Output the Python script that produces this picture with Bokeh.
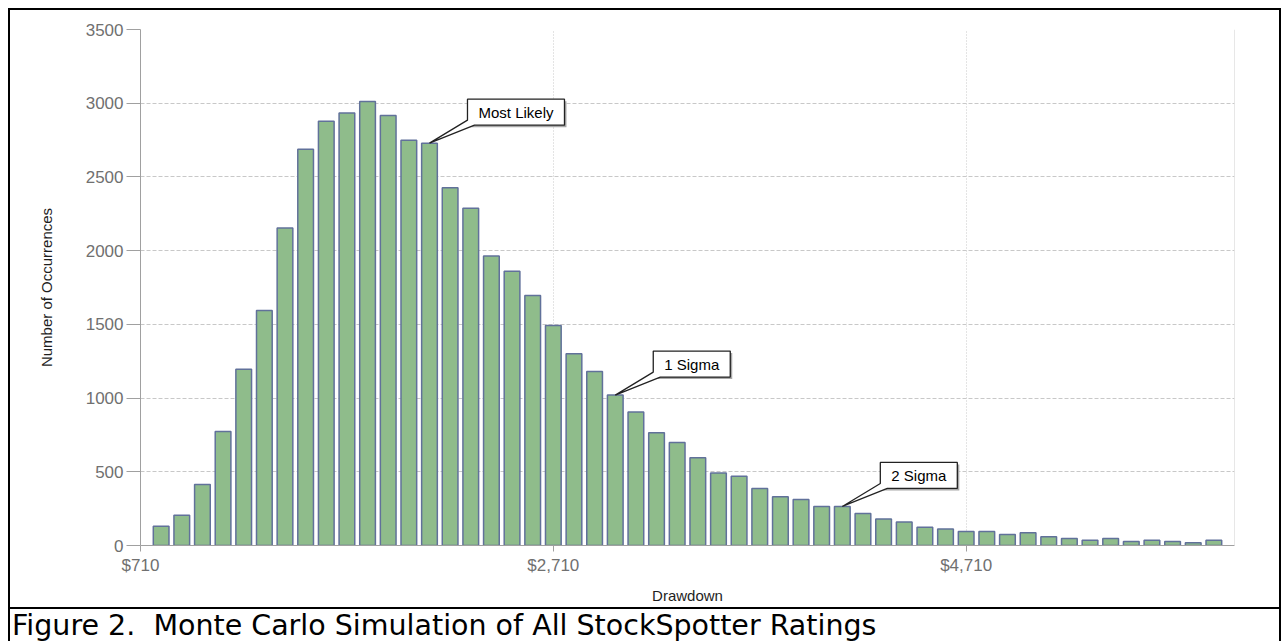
from bokeh.plotting import figure
from bokeh.models import FixedTicker, NumeralTickFormatter, Span, Range1d, Div
from bokeh.layouts import column
from bokeh.core.properties import value
from bokeh.embed import file_html
from bokeh.resources import INLINE

# ---------------- data ----------------
drawdown = [810, 910, 1010, 1110, 1210, 1310, 1410, 1510, 1610, 1710,
            1810, 1910, 2010, 2110, 2210, 2310, 2410, 2510, 2610, 2710,
            2810, 2910, 3010, 3110, 3210, 3310, 3410, 3510, 3610, 3710,
            3810, 3910, 4010, 4110, 4210, 4310, 4410, 4510, 4610, 4710,
            4810, 4910, 5010, 5110, 5210, 5310, 5410, 5510, 5610, 5710,
            5810, 5910]
occurrences = [131, 206, 414, 774, 1195, 1594, 2153, 2688, 2878, 2934,
               3011, 2916, 2748, 2729, 2427, 2287, 1963, 1861, 1696, 1493,
               1300, 1180, 1020, 905, 765, 699, 595, 491, 470, 387,
               330, 312, 265, 265, 217, 179, 160, 124, 112, 95,
               95, 75, 86, 59, 48, 36, 48, 27, 36, 27,
               18, 36]
x_ticks = [710, 2710, 4710]
y_ticks = [0, 500, 1000, 1500, 2000, 2500, 3000, 3500]
callout_labels = ["Most Likely", "1 Sigma", "2 Sigma"]
callout_drawdown = [2110, 3010, 4110]
x_title = "Drawdown"
y_title = "Number of Occurrences"
caption = "Figure 2.  Monte Carlo Simulation of All StockSpotter Ratings"

# ---------------- layout ----------------
W = 1269                 # inner width (inside the black frame)
PH, CH = 597, 34         # chart height, caption strip height
FL, FT, FR, FB = 130, 19, 1224, 535          # plot frame edges (chart canvas px)
x0, x1 = 710, 6010
y0, y1 = 0, 3500
ux = (x1 - x0) / (FR - FL)                   # data units per px
uy = (y1 - y0) / (FB - FT)

p = figure(width=W, height=PH, x_range=Range1d(x0, x1), y_range=Range1d(y0, y1),
           output_backend="svg", toolbar_location=None,
           min_border_left=FL, min_border_right=W - FR,
           min_border_top=FT, min_border_bottom=PH - FB)
p.background_fill_color = "white"
p.border_fill_color = "white"
p.outline_line_color = None

TICK_FONT = "Liberation Sans"
for ax in (p.xaxis[0], p.yaxis[0]):
    ax.axis_line_color = "#a0a0a0"
    ax.major_tick_line_color = "#a0a0a0"
    ax.minor_tick_line_color = None
    ax.major_tick_in = 0
    ax.major_label_text_font = TICK_FONT
    ax.major_label_text_font_size = "17px"
    ax.major_label_text_color = "#707070"
    ax.axis_label_text_font = TICK_FONT
    ax.axis_label_text_font_size = "15px"
    ax.axis_label_text_font_style = "normal"
    ax.axis_label_text_color = "#1e1e1e"

p.xaxis.ticker = FixedTicker(ticks=x_ticks)
p.xaxis.formatter = NumeralTickFormatter(format="$0,0")
p.xaxis.major_tick_out = 6
p.xaxis.major_label_standoff = 4
p.xaxis.axis_label = x_title
p.xaxis.axis_label_standoff = 9

p.yaxis.ticker = FixedTicker(ticks=y_ticks)
p.yaxis.major_tick_out = 14
p.yaxis.major_label_standoff = 3
p.yaxis.axis_label = y_title
p.yaxis.axis_label_standoff = 28

p.ygrid.grid_line_color = "#c8c8c8"
p.ygrid.grid_line_dash = "4 2"
p.xgrid.grid_line_color = "#c8c8c8"
p.xgrid.grid_line_dash = "1 2"

p.add_layout(Span(location=x1, dimension="height", line_color="#d0d0d0", line_width=1))

# bars
p.vbar(x=drawdown, top=occurrences, width=76, fill_color="#8fbc8b",
       line_color="#61719a", line_width=1.5)

# callouts
occ_by_x = dict(zip(drawdown, occurrences))
box_w = [97, 77, 77]
L, B, HB = 38, 18, 26
sx, sy, cxs, cys, tx, ty = [], [], [], [], [], []
for lab, cx, bw in zip(callout_labels, callout_drawdown, box_w):
    cy = occ_by_x[cx]
    pts = [(L, B + HB), (L + bw, B + HB), (L + bw, B), (L + 7, B), (0, 0), (L, B + 5)]
    cxs.append([cx + a * ux for a, _ in pts])
    cys.append([cy + b * uy for _, b in pts])
    sh = [(L + 2, B + HB - 2), (L + bw + 2, B + HB - 2), (L + bw + 2, B - 2), (L + 2, B - 2)]
    sx.append([cx + a * ux for a, _ in sh])
    sy.append([cy + b * uy for _, b in sh])
    tx.append(cx + (L + bw / 2) * ux)
    ty.append(cy + (B + HB / 2) * uy)

p.patches(xs=sx, ys=sy, fill_color="#a8a8a8", line_color=None)
p.patches(xs=cxs, ys=cys, fill_color="white", line_color="#222222", line_width=1.3)
p.text(x=tx, y=ty, text=callout_labels, text_align="center", text_baseline="middle",
       text_font=value(TICK_FONT), text_font_size="15px", text_color="black")

# caption strip
cap = Div(text=caption, width=W, height=CH, margin=0,
          styles={"border-top": "2px solid black", "font-family": "DejaVu Sans",
                  "font-size": "28.5px", "line-height": "33px", "color": "black",
                  "padding-left": "2px", "white-space": "pre", "overflow": "hidden",
                  "background-color": "white"})

layout = column(p, cap, spacing=0,
                styles={"border-left": "2px solid black", "border-right": "2px solid black",
                        "border-top": "2px solid black", "margin-left": "8px",
                        "margin-top": "8px"})

open("out.html", "w").write(file_html(layout, INLINE))
